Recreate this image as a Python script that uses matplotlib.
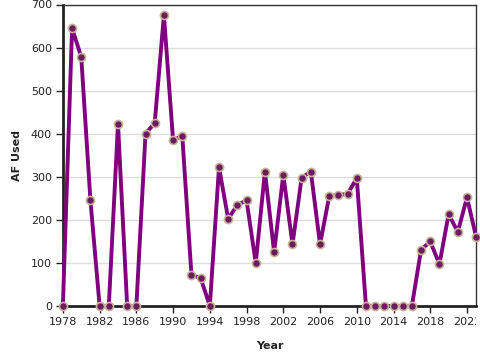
import matplotlib.pyplot as plt
from matplotlib.transforms import Bbox, TransformedBbox

years = list(range(1978, 2024))
af_used = [0, 645, 578, 245, 0, 0, 423, 0, 0, 400,
           425, 675, 385, 395, 72, 65, 0, 322, 202, 235,
           245, 100, 312, 125, 305, 143, 298, 312, 143, 255,
           258, 260, 297, 0, 0, 0, 0, 0, 0, 130,
           150, 97, 213, 172, 252, 160]
x_ticks = list(range(1978, 2023, 4))
y_ticks = list(range(0, 701, 100))

fig = plt.figure(figsize=(4.8, 3.6), dpi=100)
ax = fig.add_axes([0.131, 0.15, 0.861, 0.8375])

ax.plot(years, af_used, color="#800080", linewidth=2.8, zorder=3, clip_on=False)
ax.plot(years, af_used, linestyle="none", marker="o", markersize=5.8,
        markerfacecolor="#6e1a5e", markeredgecolor="#c4b49a",
        markeredgewidth=1.2, zorder=4, clip_on=False)

ax.set_xlim(1978, 2023)
ax.set_ylim(0, 700)
ax.set_xticks(x_ticks)
ax.set_yticks(y_ticks)
ax.tick_params(axis="both", labelsize=8, colors="#222222", length=5,
               width=1, direction="out", pad=3)

ax.yaxis.grid(True, color="#dddddd", linewidth=1, zorder=0)
ax.set_axisbelow(True)

for side in ["top", "right"]:
    ax.spines[side].set_color("#333333")
    ax.spines[side].set_linewidth(1)
for side in ["left", "bottom"]:
    ax.spines[side].set_color("#222222")
    ax.spines[side].set_linewidth(2)

ax.set_xlabel("Year", fontsize=8, fontweight="bold", color="#222222", labelpad=10)
ax.set_ylabel("AF Used", fontsize=8, fontweight="bold", color="#222222", labelpad=6)

# the last year label is cut at the right edge of the frame
clip = TransformedBbox(Bbox([[0, 0], [0.992, 1]]), fig.transFigure)
for lbl in ax.get_xticklabels():
    lbl.set_clip_on(True)
    lbl.set_clip_box(clip)

fig.savefig("out.png", dpi=100)
